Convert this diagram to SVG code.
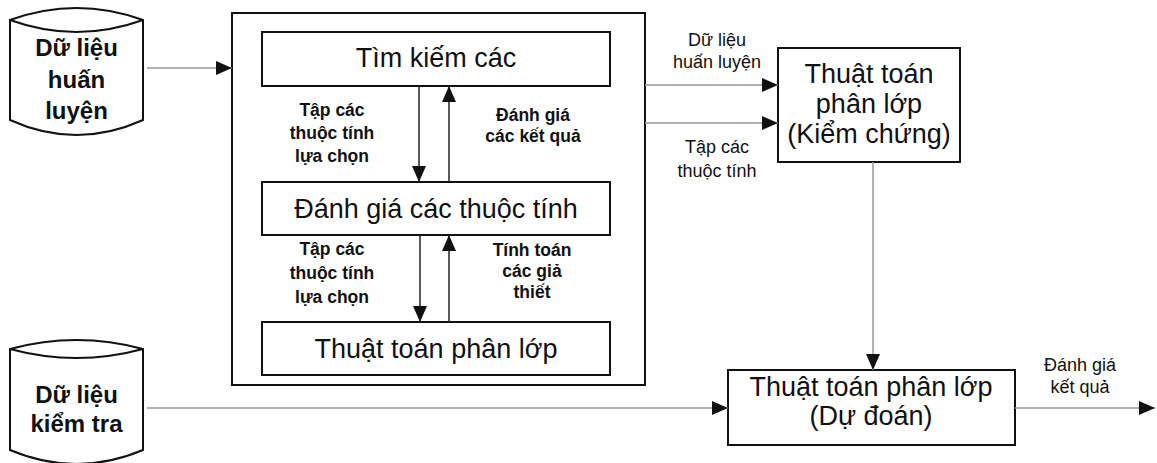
<svg xmlns="http://www.w3.org/2000/svg" width="1157" height="463" viewBox="0 0 1157 463">
<defs>
<style>
.box{fill:#fff;stroke:#111;stroke-width:2}
.cyl{fill:#fff;stroke:#111;stroke-width:2}
.t-cyl{font-family:"Liberation Sans",Arial,sans-serif;font-weight:bold;font-size:24px;fill:#111;text-anchor:middle}
.t-box{font-family:"Liberation Sans",Arial,sans-serif;font-size:27px;fill:#111;text-anchor:middle}
.t-lbl{font-family:"Liberation Sans",Arial,sans-serif;font-weight:bold;font-size:17.5px;fill:#111;text-anchor:middle}
.t-rl{font-family:"Liberation Sans",Arial,sans-serif;font-size:18px;fill:#111;text-anchor:middle}
.c-grey{stroke:#9a9a9a;stroke-width:1.5;fill:none}
.c-dark{stroke:#222;stroke-width:1.5;fill:none}
</style>
<marker id="ah" viewBox="0 0 16 14" refX="16" refY="7" markerWidth="16" markerHeight="14" markerUnits="userSpaceOnUse" orient="auto">
<path d="M0,0 L16,7 L0,14 Z" fill="#111"/>
</marker>
</defs>
<rect width="1157" height="463" fill="#fff"/>

<g id="cyl-train">
<path class="cyl" d="M10,20 Q76.5,-4 143,20 L143,120 Q76.5,150 10,120 Z"/>
<path class="cyl" d="M10,20 Q76.5,44 143,20"/>
<text class="t-cyl" x="76.5" y="56">Dữ liệu</text>
<text class="t-cyl" x="76.5" y="88">huấn</text>
<text class="t-cyl" x="76.5" y="119">luyện</text>
</g>

<g id="cyl-test">
<path class="cyl" d="M10,349 Q76.5,331 143,349 L143,450 Q76.5,478 10,450 Z"/>
<path class="cyl" d="M10,349 Q76.5,367 143,349"/>
<text class="t-cyl" x="76.5" y="403">Dữ liệu</text>
<text class="t-cyl" x="76.5" y="432">kiểm tra</text>
</g>

<g id="outer-box">
<rect class="box" x="232" y="13" width="413" height="372"/>
</g>

<g id="search">
<rect class="box" x="262" y="32" width="348" height="54"/>
<text class="t-box" x="436" y="67">Tìm kiếm các</text>
</g>

<g id="evaluate">
<rect class="box" x="262" y="182" width="348" height="53"/>
<text class="t-box" x="436" y="218">Đánh giá các thuộc tính</text>
</g>

<g id="classifier">
<rect class="box" x="262" y="322" width="348" height="53"/>
<text class="t-box" x="436" y="358">Thuật toán phân lớp</text>
</g>

<g id="verify">
<rect class="box" x="778" y="48" width="182" height="114"/>
<text class="t-box" x="869" y="83">Thuật toán</text>
<text class="t-box" x="869" y="113">phân lớp</text>
<text class="t-box" x="869" y="143">(Kiểm chứng)</text>
</g>

<g id="predict">
<rect class="box" x="728" y="370" width="287" height="75"/>
<text class="t-box" x="871" y="396">Thuật toán phân lớp</text>
<text class="t-box" x="871" y="425">(Dự đoán)</text>
</g>

<g id="connectors">
<line class="c-grey" x1="147" y1="68" x2="232" y2="68" marker-end="url(#ah)"/>
<line class="c-dark" x1="419" y1="86" x2="419" y2="182" marker-end="url(#ah)"/>
<line class="c-dark" x1="449" y1="182" x2="449" y2="86" marker-end="url(#ah)"/>
<line class="c-dark" x1="420" y1="235" x2="420" y2="322" marker-end="url(#ah)"/>
<line class="c-dark" x1="449" y1="322" x2="449" y2="235" marker-end="url(#ah)"/>
<line class="c-grey" x1="645" y1="85" x2="778" y2="85" marker-end="url(#ah)"/>
<line class="c-grey" x1="645" y1="123" x2="778" y2="123" marker-end="url(#ah)"/>
<line class="c-grey" x1="873" y1="162" x2="873" y2="370" marker-end="url(#ah)"/>
<line class="c-grey" x1="147" y1="408" x2="728" y2="408" marker-end="url(#ah)"/>
<line class="c-grey" x1="1015" y1="408" x2="1155" y2="408" marker-end="url(#ah)"/>
</g>

<g id="labels">
<text class="t-lbl" x="332" y="116">Tập các</text>
<text class="t-lbl" x="332" y="139">thuộc tính</text>
<text class="t-lbl" x="332" y="162">lựa chọn</text>
<text class="t-lbl" x="533" y="121">Đánh giá</text>
<text class="t-lbl" x="533" y="142">các kết quả</text>
<text class="t-lbl" x="332" y="255">Tập các</text>
<text class="t-lbl" x="332" y="279">thuộc tính</text>
<text class="t-lbl" x="332" y="303">lựa chọn</text>
<text class="t-lbl" x="532" y="256">Tính toán</text>
<text class="t-lbl" x="532" y="277">các giả</text>
<text class="t-lbl" x="532" y="298">thiết</text>
<text class="t-rl" x="717" y="46">Dữ liệu</text>
<text class="t-rl" x="717" y="68">huấn luyện</text>
<text class="t-rl" x="717" y="153">Tập các</text>
<text class="t-rl" x="717" y="177">thuộc tính</text>
<text class="t-rl" x="1080" y="371">Đánh giá</text>
<text class="t-rl" x="1080" y="393">kết quả</text>
</g>
</svg>
